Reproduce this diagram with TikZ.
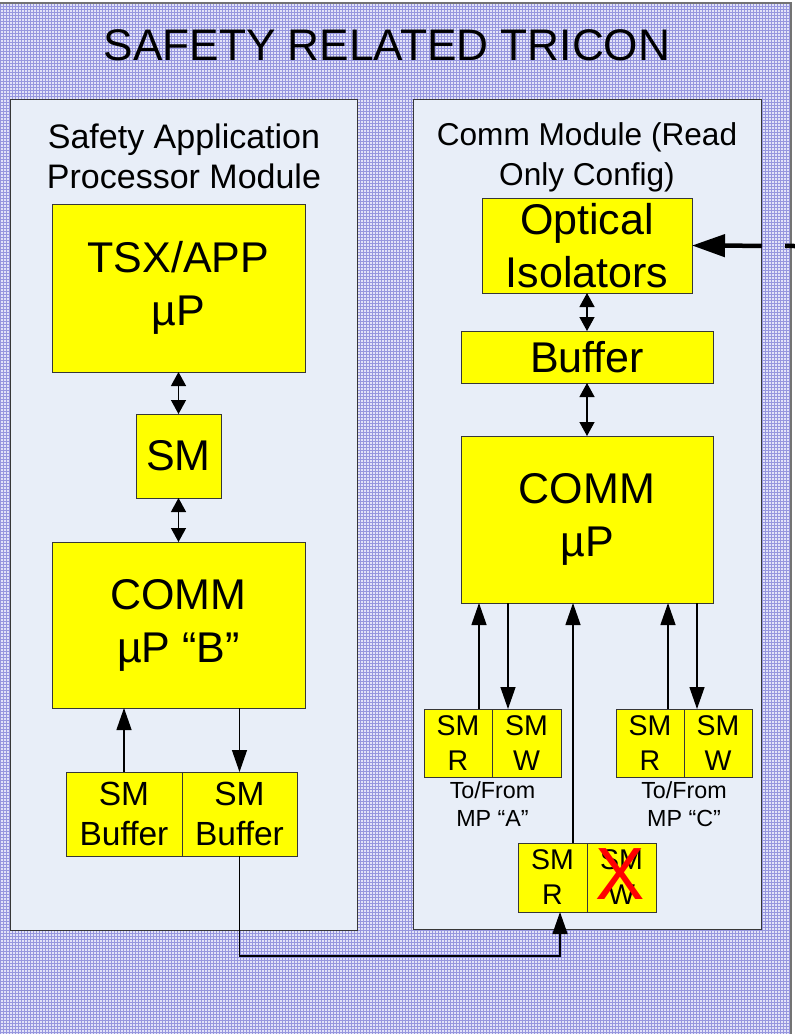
\documentclass[tikz,border=0pt]{standalone}
\usepackage{fontspec}
\setmainfont{Liberation Sans}
\usetikzlibrary{arrows.meta}
\definecolor{ylw}{RGB}{255,255,0}
\definecolor{modfill}{RGB}{232,238,248}
\definecolor{edge}{RGB}{55,55,55}
\definecolor{hatchbg}{RGB}{226,226,248}
\definecolor{hatchline}{RGB}{150,150,222}
\tikzset{
  ybox/.style={draw=edge, fill=ylw, line width=0.9pt, inner sep=0pt, outer sep=0pt, align=center, anchor=north west},
  modbox/.style={draw=edge, fill=modfill, line width=1pt, inner sep=0pt, outer sep=0pt, anchor=north west},
  arr/.style={-{Triangle[length=22pt,width=15pt]}, line width=1.3pt},
  darr/.style={{Triangle[length=14pt,width=15pt]}-{Triangle[length=14pt,width=15pt]}, line width=1.3pt},
  bigarr/.style={-{Triangle[length=33pt,width=22pt]}, line width=4.5pt, dash pattern=on 10pt off 23pt on 300pt off 0pt},
  fbig/.style={font=\fontsize{43}{53}\selectfont},
  fmodl/.style={font=\fontsize{34}{40}\selectfont, align=center},
  fmodr/.style={font=\fontsize{31.6}{40}\selectfont, align=center},
  fsmb/.style={font=\fontsize{33.5}{40}\selectfont},
  fsm/.style={font=\fontsize{28.5}{35}\selectfont},
  flab/.style={font=\fontsize{23.3}{28}\selectfont, align=center},
}
\begin{document}
\begin{tikzpicture}[x=1pt,y=-1pt]
\useasboundingbox (0,0) rectangle (795,1034);
% hatched background
\fill[hatchbg] (0,3) rectangle (791,1040);
\draw[hatchline, line width=0.55pt, step=3pt] (0,3) grid (791,1034);
\draw[edge!70, line width=1.5pt] (-2,3) -- (791,3) -- (791,1040);
% title
\node[font=\fontsize{44.2}{50}\selectfont] (title) at (387,45) {SAFETY RELATED TRICON};
% modules
\node[modbox, minimum width=347pt, minimum height=831pt] (lmod) at (10,99) {};
\node[modbox, minimum width=348pt, minimum height=830pt] (rmod) at (413,99) {};
\node[fmodl] (ltitle) at (184,156) {Safety Application\\Processor Module};
\node[fmodr] (rtitle) at (587,157) {Comm Module (Read\\Only Config)};
% left module boxes
\node[ybox, fbig, minimum width=253pt, minimum height=168pt] (tsx) at (52,204) {TSX/APP\\µP};
\node[ybox, fbig, minimum width=85pt, minimum height=84pt] (sm) at (136,414) {SM};
\node[ybox, fbig, minimum width=253pt, minimum height=166pt] (commb) at (52,542) {COMM\\µP “B”};
\node[ybox, fsmb, minimum width=116pt, minimum height=84pt] (buf1) at (66,772) {SM\\Buffer};
\node[ybox, fsmb, minimum width=115pt, minimum height=84pt] (buf2) at (182,772) {SM\\Buffer};
% right module boxes
\node[ybox, fbig, minimum width=210pt, minimum height=95pt] (opt) at (482,198) {Optical\\Isolators};
\node[ybox, fbig, minimum width=252pt, minimum height=52pt] (buf) at (461,331) {Buffer};
\node[ybox, fbig, minimum width=252pt, minimum height=167pt] (comm) at (461,436) {COMM\\µP};
\node[ybox, fsm, minimum width=68pt, minimum height=68pt] (ar) at (424,709) {SM\\R};
\node[ybox, fsm, minimum width=69pt, minimum height=68pt] (aw) at (492,709) {SM\\W};
\node[ybox, fsm, minimum width=68pt, minimum height=68pt] (cr) at (616,709) {SM\\R};
\node[ybox, fsm, minimum width=68pt, minimum height=68pt] (cw) at (684,709) {SM\\W};
\node[ybox, fsm, minimum width=69pt, minimum height=69pt] (br) at (518,843) {SM\\R};
\node[ybox, fsm, minimum width=69pt, minimum height=69pt] (bw) at (587,843) {SM\\W};
\node[text=red, font=\fontsize{74}{74}\selectfont, inner sep=0pt] (cross) at (620,874) {X};
\node[flab] (laba) at (492.5,804) {To/From\\MP “A”};
\node[flab] (labc) at (684,804) {To/From\\MP “C”};
% coordinates for connector x positions
\coordinate (xa1) at (479,0);
\coordinate (xa2) at (508,0);
\coordinate (xb) at (573,0);
\coordinate (xb2) at (560,0);
\coordinate (xc1) at (668,0);
\coordinate (xc2) at (697,0);
\coordinate (ext) at (795,246);
% left connectors
\draw[darr] (tsx.south -| sm.north) -- (sm.north);
\draw[darr] (sm.south) -- (sm.south |- commb.north);
\draw[arr] (buf1.north) -- (buf1.north |- commb.south);
\draw[arr] (commb.south -| buf2.north) -- (buf2.north);
\draw[arr] (buf2.south) -- ++(0,100) -| (xb2 |- br.south);
% right connectors
\draw[darr] (opt.south -| buf.north) -- (buf.north);
\draw[darr] (buf.south) -- (buf.south |- comm.north);
\draw[arr] (xa1 |- ar.north) -- (xa1 |- comm.south);
\draw[arr] (xa2 |- comm.south) -- (xa2 |- aw.north);
\draw[arr] (xc1 |- cr.north) -- (xc1 |- comm.south);
\draw[arr] (xc2 |- comm.south) -- (xc2 |- cw.north);
\draw[arr] (xb |- br.north) -- (xb |- comm.south);
\draw[bigarr] (ext) -- (opt.east);
\end{tikzpicture}
\end{document}
